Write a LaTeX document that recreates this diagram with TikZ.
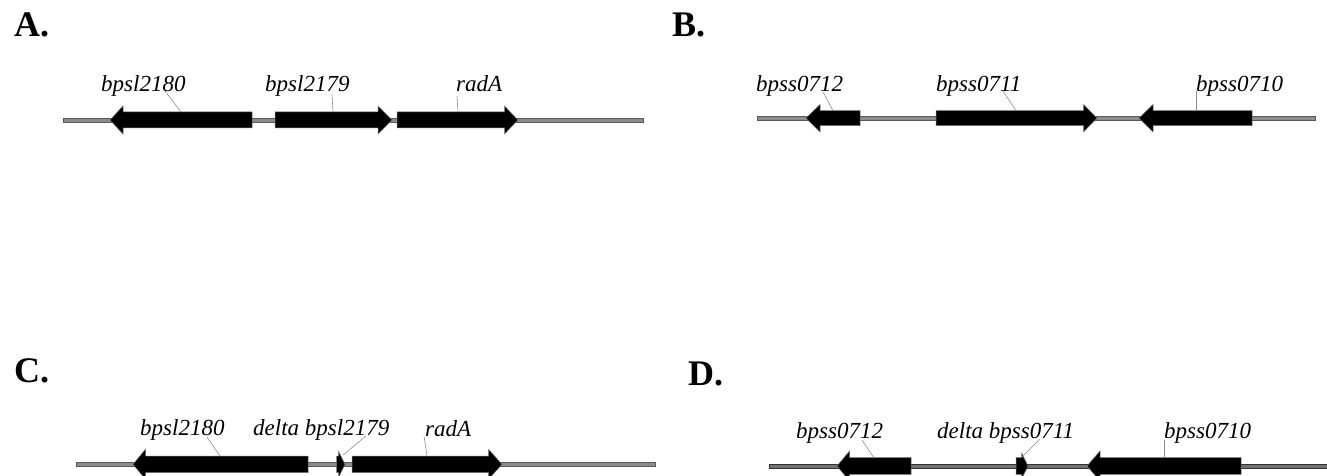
\documentclass[tikz,border=0pt]{standalone}
\usepackage{fontspec}
\setmainfont{Liberation Serif}
\tikzset{
  genearrow/.style={fill=black, draw=black!55, line width=0.5pt, line join=miter},
  backbone/.style={fill=black!45, draw=black!65, line width=0.7pt},
  backbonedark/.style={fill=black!55, draw=black!80, line width=0.8pt},
  leader/.style={draw=black!45, line width=0.6pt},
  genelabel/.style={anchor=base west, inner sep=0pt, font=\fontsize{23}{27}\selectfont\itshape},
  paneltitle/.style={anchor=base west, inner sep=0pt, font=\fontsize{36}{40}\selectfont\bfseries}
}
% right-pointing gene: #1 x left, #2 x tip, #3 y centre, #4 head length, #5 body half, #6 head half
\newcommand\generight[6]{%
  \path[genearrow] (#1,{#3-#5}) -- ({#2-#4},{#3-#5}) -- ({#2-#4},{#3-#6}) -- (#2,#3)
    -- ({#2-#4},{#3+#6}) -- ({#2-#4},{#3+#5}) -- (#1,{#3+#5}) -- cycle;}
% left-pointing gene: #1 x tip, #2 x right, #3 y centre, #4 head length, #5 body half, #6 head half
\newcommand\geneleft[6]{%
  \path[genearrow] (#2,{#3-#5}) -- ({#1+#4},{#3-#5}) -- ({#1+#4},{#3-#6}) -- (#1,#3)
    -- ({#1+#4},{#3+#6}) -- ({#1+#4},{#3+#5}) -- (#2,{#3+#5}) -- cycle;}
\begin{document}
\begin{tikzpicture}[x=1pt,y=-1pt]
\useasboundingbox (0,0) rectangle (1327,476);

% ---------- titles ----------
\node[paneltitle] (tA) at (14,37) {A.};
\node[paneltitle] (tB) at (672,37) {B.};
\node[paneltitle] (tC) at (14,382) {C.};
\node[paneltitle] (tD) at (688,385) {D.};

% ---------- panel A ----------
\path[backbone] (63,118) rectangle (643,122);
\geneleft{110}{252}{120}{13}{8}{14}
\generight{275}{392}{120}{14}{8}{14}
\generight{397}{518}{120}{13.5}{8}{14}
\node[genelabel] (la1) at (101,91.5) {bpsl2180};
\node[genelabel] (la2) at (265,91.5) {bpsl2179};
\node[genelabel] (la3) at (456,91.5) {radA};
\coordinate (a1s) at (165,91); \coordinate (a1e) at (181,112);
\coordinate (a2s) at (332,94); \coordinate (a2e) at (333,112);
\coordinate (a3s) at (457,96); \coordinate (a3e) at (458,112);
\draw[leader] (a1s) -- (a1e);
\draw[leader] (a2s) -- (a2e);
\draw[leader] (a3s) -- (a3e);

% ---------- panel B ----------
\path[backbone] (757,116.2) rectangle (1315,120.2);
\geneleft{806}{860}{118.2}{14}{7.5}{13.7}
\generight{936}{1097}{118.2}{13.5}{7.5}{13.7}
\geneleft{1139}{1252}{118.2}{14}{7.5}{13.7}
\node[genelabel] (lb1) at (756,91.5) {bpss0712};
\node[genelabel] (lb2) at (936,91.5) {bpss0711};
\node[genelabel] (lb3) at (1196,91.5) {bpss0710};
\coordinate (b1s) at (823,92); \coordinate (b1e) at (833,110.7);
\coordinate (b2s) at (1003,91); \coordinate (b2e) at (1016,110.7);
\coordinate (b3s) at (1196,91); \coordinate (b3e) at (1196,110.7);
\draw[leader] (b1s) -- (b1e);
\draw[leader] (b2s) -- (b2e);
\draw[leader] (b3s) -- (b3e);

% ---------- panel C ----------
\path[backbone] (76,462.3) rectangle (655,466.3);
\geneleft{133}{308}{464.3}{12.5}{8.3}{15}
\generight{336.5}{345}{464.3}{6.5}{8.3}{13}
\generight{352}{502}{464.3}{13.5}{8.3}{15}
\node[genelabel] (lc1) at (140,435.5) {bpsl2180};
\node[genelabel] (lc2) at (253,435.5) {delta bpsl2179};
\node[genelabel] (lc3) at (425,436) {radA};
\coordinate (c1s) at (207,437); \coordinate (c1e) at (220,456);
\coordinate (c2s) at (366,436); \coordinate (c2e) at (343,455);
\coordinate (c3s) at (424,436); \coordinate (c3e) at (427,456);
\draw[leader] (c1s) -- (c1e);
\draw[leader] (c2s) -- (c2e);
\draw[leader] (c3s) -- (c3e);

% ---------- panel D ----------
\path[backbonedark] (769,464) rectangle (1330,468);
\geneleft{837}{911}{466}{12.5}{8.3}{15}
\generight{1016}{1028}{466}{6.5}{8.3}{13}
\geneleft{1087}{1241}{466}{13}{8.3}{15}
\node[genelabel] (ld1) at (796,438) {bpss0712};
\node[genelabel] (ld2) at (937,438) {delta bpss0711};
\node[genelabel] (ld3) at (1164,438) {bpss0710};
\coordinate (d1s) at (862,440); \coordinate (d1e) at (874,458);
\coordinate (d2s) at (1040,439); \coordinate (d2e) at (1022,457);
\coordinate (d3s) at (1164,440); \coordinate (d3e) at (1164,458);
\draw[leader] (d1s) -- (d1e);
\draw[leader] (d2s) -- (d2e);
\draw[leader] (d3s) -- (d3e);
\end{tikzpicture}
\end{document}
